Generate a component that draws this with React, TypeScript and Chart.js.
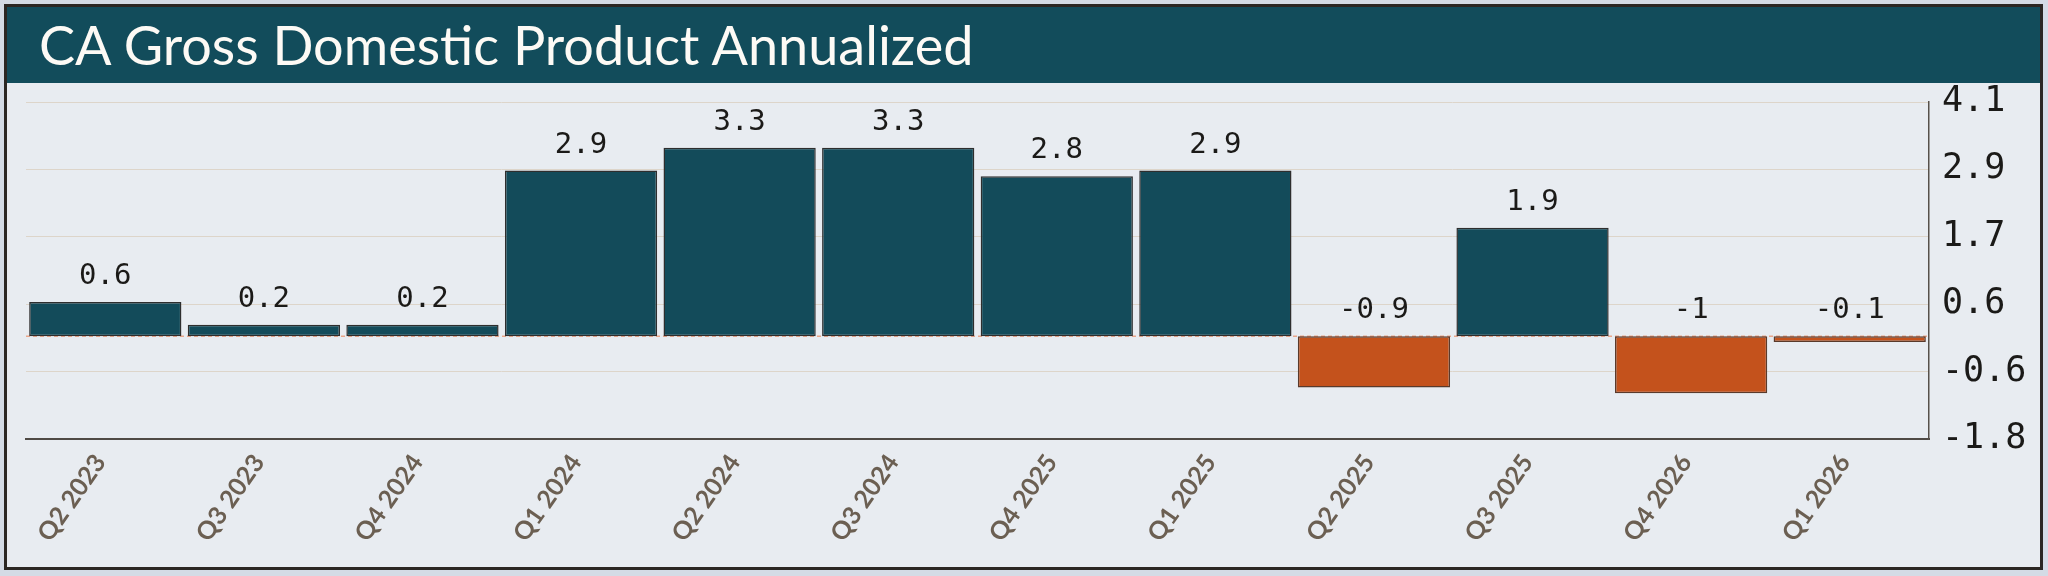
import React, { useEffect, useRef } from "react";
import { Chart, registerables } from "chart.js";

Chart.register(...registerables);

const TITLE = "CA Gross Domestic Product Annualized";
const categories = [
  "Q2 2023", "Q3 2023", "Q4 2024", "Q1 2024", "Q2 2024", "Q3 2024",
  "Q4 2025", "Q1 2025", "Q2 2025", "Q3 2025", "Q4 2026", "Q1 2026",
];
const gdpValues = [0.6, 0.2, 0.2, 2.9, 3.3, 3.3, 2.8, 2.9, -0.9, 1.9, -1, -0.1];
const yMin = -1.8;
const yMax = 4.1;
const yTickCount = 6;

const TEAL = "#134b5a";
const ORANGE = "#c4521c";
const MONO = "'DejaVu Sans Mono', monospace";
const SANS = "Lato, 'Noto Sans', sans-serif";

const zeroLinePlugin = {
  id: "zeroLine",
  beforeDatasetsDraw(chart: any) {
    const { ctx, chartArea, scales } = chart;
    const y0 = scales.y.getPixelForValue(0);
    ctx.save();
    ctx.strokeStyle = "#e9a68a";
    ctx.lineWidth = 1.5;
    ctx.setLineDash([4, 3]);
    ctx.beginPath();
    ctx.moveTo(chartArea.left, y0);
    ctx.lineTo(chartArea.right, y0);
    ctx.stroke();
    ctx.restore();
  },
};

const valueLabelPlugin = {
  id: "valueLabels",
  afterDatasetsDraw(chart: any) {
    const { ctx, scales } = chart;
    const meta = chart.getDatasetMeta(0);
    const data = chart.data.datasets[0].data as number[];
    ctx.save();
    ctx.font = `29px ${MONO}`;
    ctx.fillStyle = "#1b1a18";
    ctx.textAlign = "center";
    ctx.textBaseline = "alphabetic";
    meta.data.forEach((bar: any, i: number) => {
      const v = data[i];
      const y = scales.y.getPixelForValue(Math.max(v, 0)) - 18;
      ctx.fillText(String(v), bar.x, y);
    });
    ctx.restore();
  },
};

export default function App() {
  const canvasRef = useRef<HTMLCanvasElement | null>(null);

  useEffect(() => {
    document.body.style.margin = "0";
    const canvas = canvasRef.current;
    if (!canvas) return;
    const chart = new Chart(canvas, {
      type: "bar",
      data: {
        labels: categories,
        datasets: [
          {
            data: gdpValues,
            backgroundColor: gdpValues.map((v) => (v < 0 ? ORANGE : TEAL)),
            borderColor: gdpValues.map((v) => (v < 0 ? "#5a3a2b" : "#2e2e2e")),
            borderWidth: 1.5,
            borderSkipped: false,
            categoryPercentage: 1,
            barPercentage: 0.96,
          },
        ],
      },
      options: {
        animation: false,
        responsive: false,
        maintainAspectRatio: false,
        devicePixelRatio: 1,
        layout: { padding: { left: 19, top: 19, right: 0, bottom: 0 } },
        plugins: {
          legend: { display: false },
          tooltip: { enabled: false },
          title: { display: false },
        },
        scales: {
          x: {
            grid: { display: false, drawTicks: false },
            border: { display: true, color: "#4f4a45", width: 2 },
            ticks: {
              color: "#6b5f52",
              font: { family: SANS, size: 25, weight: "bold" },
              minRotation: 55,
              maxRotation: 55,
              padding: 10,
              labelOffset: -5,
            },
            afterFit(scale: any) {
              scale.height = 128;
              scale.paddingLeft = 0;
              scale.paddingRight = 0;
            },
          },
          y: {
            position: "right",
            min: yMin,
            max: yMax,
            afterBuildTicks(scale: any) {
              const step = (yMax - yMin) / (yTickCount - 1);
              scale.ticks = Array.from({ length: yTickCount }, (_, i) => ({
                value: yMin + step * i,
              }));
            },
            grid: { color: "#ddd5ca", lineWidth: 1, drawTicks: false },
            border: { display: true, color: "#57514b", width: 1.5 },
            ticks: {
              color: "#1b1a18",
              font: { family: MONO, size: 35, lineHeight: 1 },
              padding: 13,
              callback: (v: any) => Number(v).toFixed(1),
            },
            afterFit(scale: any) {
              scale.width = 111;
              scale.paddingTop = 0;
              scale.paddingBottom = 0;
            },
          },
        },
      },
      plugins: [zeroLinePlugin, valueLabelPlugin],
    });
    return () => chart.destroy();
  }, []);

  return (
    <div
      style={{
        position: "absolute",
        left: 0,
        top: 0,
        width: 2048,
        height: 576,
        background: "#d4dbe5",
      }}
    >
      <div
        style={{
          position: "absolute",
          left: 4,
          top: 4,
          width: 2039,
          height: 566,
          boxSizing: "border-box",
          border: "3px solid #2b2723",
          background: "#e8ecf1",
        }}
      >
        <div
          style={{
            height: 76,
            background: "#124c5b",
            color: "#fdfaf5",
            fontFamily: SANS,
            fontSize: 54,
            lineHeight: "76px",
            paddingLeft: 32,
            whiteSpace: "nowrap",
          }}
        >
          {TITLE}
        </div>
        <canvas
          ref={canvasRef}
          width={2033}
          height={484}
          style={{ display: "block", width: 2033, height: 484 }}
        />
      </div>
    </div>
  );
}
